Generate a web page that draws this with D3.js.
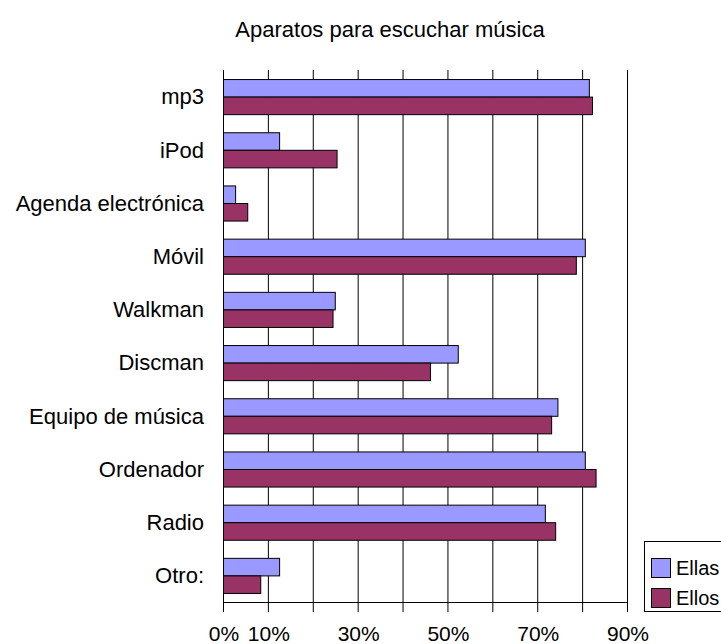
<!DOCTYPE html>
<html>
<head>
<meta charset="utf-8">
<script src="https://cdn.jsdelivr.net/npm/d3@7"></script>
<style>
body { margin: 0; background: #fff; }
svg { display: block; font-family: "Liberation Sans", Arial, sans-serif; }
</style>
</head>
<body>
<script>
var categories = ["mp3", "iPod", "Agenda electrónica", "Móvil", "Walkman", "Discman",
  "Equipo de música", "Ordenador", "Radio", "Otro:"];
var ellas = [81.5, 12.5, 2.7, 80.6, 24.9, 52.3, 74.5, 80.6, 71.7, 12.5];
var ellos = [82.2, 25.3, 5.4, 78.6, 24.4, 46.1, 73.1, 83.0, 74.0, 8.3];
var series = ["Ellas", "Ellos"];
var gridTicks = [0, 10, 20, 30, 40, 50, 60, 70, 80, 90];
var tickLabels = [0, 10, 30, 50, 70, 90];

var width = 721, height = 644;
var margin = {top: 70, right: 94, bottom: 42, left: 223};

var color = d3.scaleOrdinal()
    .domain(series)
    .range(["#9999ff", "#993366"]);

var svg = d3.select("body").append("svg")
    .attr("width", width)
    .attr("height", height);

var x = d3.scaleLinear()
    .domain([0, 90])
    .range([margin.left, width - margin.right]);

var y = d3.scaleBand()
    .domain(categories)
    .range([margin.top, height - margin.bottom])
    .paddingInner(0.34)
    .paddingOuter(0.17);

var y1 = d3.scaleBand()
    .domain(series)
    .range([0, y.bandwidth()]);

svg.append("text")
    .attr("x", 390)
    .attr("y", 37)
    .attr("text-anchor", "middle")
    .style("font-size", "22px")
    .text("Aparatos para escuchar música");

// vertical gridlines
svg.append("g")
  .selectAll("line")
  .data(gridTicks)
  .join("line")
    .attr("x1", d => x(d) + 0.5)
    .attr("x2", d => x(d) + 0.5)
    .attr("y1", margin.top)
    .attr("y2", height - margin.bottom + 10)
    .attr("stroke", "#000")
    .attr("stroke-width", 1);

var rows = categories.map((c, i) => ({cat: c, vals: [ellas[i], ellos[i]]}));

var group = svg.append("g")
  .selectAll("g")
  .data(rows)
  .join("g")
    .attr("transform", d => `translate(0,${y(d.cat)})`);

group.selectAll("rect")
  .data(d => d.vals.map((v, j) => ({key: series[j], value: v})))
  .join("rect")
    .attr("x", x(0) + 0.5)
    .attr("y", d => y1(d.key) + 0.5)
    .attr("width", d => x(d.value) - x(0))
    .attr("height", y1.bandwidth())
    .attr("fill", d => color(d.key))
    .attr("stroke", "#000")
    .attr("stroke-width", 1);

// bottom axis line
svg.append("line")
    .attr("x1", x(0))
    .attr("x2", x(90) + 1)
    .attr("y1", height - margin.bottom + 0.5)
    .attr("y2", height - margin.bottom + 0.5)
    .attr("stroke", "#000");

// category labels
svg.append("g")
    .attr("text-anchor", "end")
    .style("font-size", "22px")
  .selectAll("text")
  .data(categories)
  .join("text")
    .attr("x", x(0) - 19)
    .attr("y", d => y(d) + y.bandwidth() / 2)
    .attr("dy", "0.35em")
    .text(d => d);

// tick labels
svg.append("g")
    .attr("text-anchor", "middle")
    .style("font-size", "21px")
  .selectAll("text")
  .data(tickLabels)
  .join("text")
    .attr("x", d => x(d) + 1)
    .attr("y", height - 3)
    .text(d => d + "%");

// legend
var legend = svg.append("g")
    .attr("transform", "translate(644,541)");

legend.append("rect")
    .attr("x", 0.5)
    .attr("y", 0.5)
    .attr("width", 90)
    .attr("height", 70)
    .attr("fill", "#fff")
    .attr("stroke", "#000");

var item = legend.selectAll("g")
  .data(series)
  .join("g")
    .attr("transform", (d, i) => `translate(7,${17 + i * 30})`);

item.append("rect")
    .attr("x", 0.5)
    .attr("y", 0.5)
    .attr("width", 19)
    .attr("height", 19)
    .attr("fill", d => color(d))
    .attr("stroke", "#000");

item.append("text")
    .attr("x", 25)
    .attr("y", 10)
    .attr("dy", "0.35em")
    .style("font-size", "20px")
    .text(d => d);
</script>
</body>
</html>
